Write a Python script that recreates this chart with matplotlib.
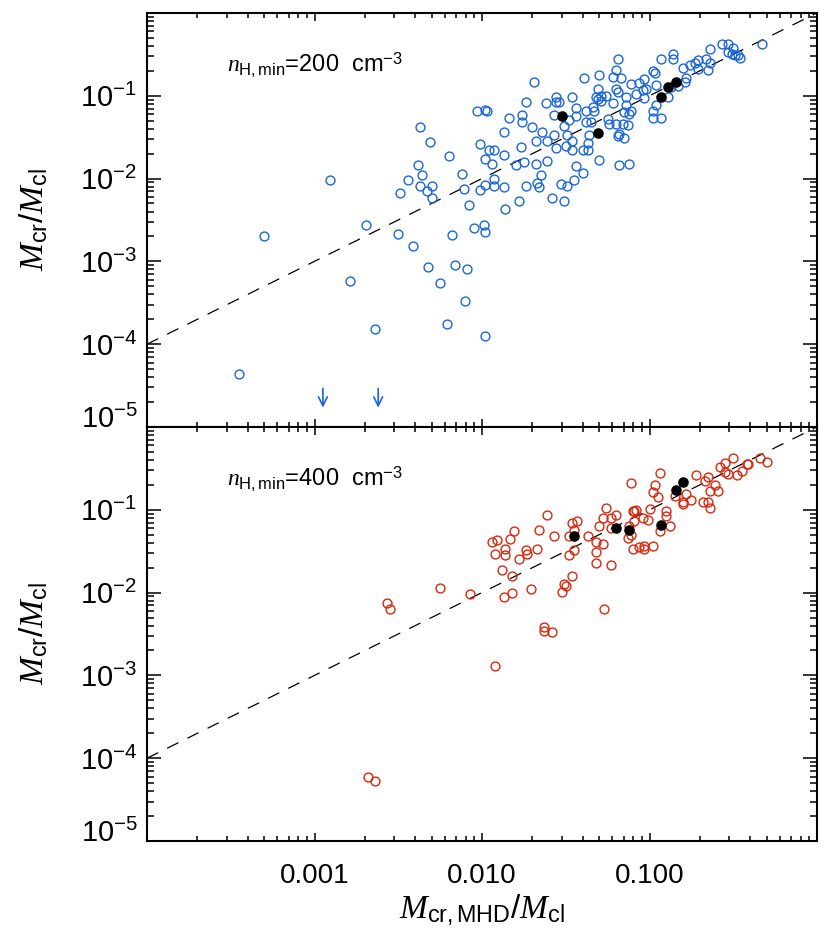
import numpy as np
import matplotlib
matplotlib.use("Agg")
import matplotlib.pyplot as plt
from matplotlib.ticker import FixedLocator, FixedFormatter, NullFormatter

plt.rcParams['font.family'] = ['Liberation Sans', 'DejaVu Sans']
plt.rcParams['mathtext.fontset'] = 'custom'
plt.rcParams['mathtext.rm'] = 'Liberation Sans'
plt.rcParams['mathtext.it'] = 'Liberation Serif:italic'
plt.rcParams['mathtext.bf'] = 'Liberation Sans:bold'

# values are log10(M_cr,MHD/M_cl), log10(M_cr/M_cl)
open_200 = [
    (-3.45, -4.36), (-3.30, -2.69), (-2.91, -2.02), (-2.79, -3.24), (-2.69, -2.56),
    (-2.64, -3.82), (-2.50, -2.67), (-2.49, -2.17), (-2.44, -2.02), (-2.41, -2.82),
    (-2.37, -1.38), (-2.31, -1.56), (-2.38, -1.84), (-2.36, -1.96), (-2.37, -2.09),
    (-2.30, -2.09), (-2.33, -2.15), (-2.30, -2.23), (-2.32, -3.07), (-2.25, -3.26),
    (-2.20, -1.73), (-2.12, -1.94), (-2.11, -2.13), (-2.08, -2.32), (-2.18, -2.68),
    (-2.16, -3.05), (-2.09, -3.09), (-2.10, -3.48), (-2.21, -3.76), (-2.05, -2.60),
    (-1.99, -2.56), (-1.98, -2.64), (-1.98, -3.90), (-2.03, -1.19), (-1.98, -1.17),
    (-1.97, -1.18), (-2.01, -1.58), (-1.96, -1.65), (-1.93, -1.66), (-1.98, -1.76),
    (-1.94, -1.83), (-1.93, -2.01), (-1.93, -2.09), (-1.98, -2.08), (-2.01, -2.14),
    (-1.87, -2.10), (-1.86, -2.37), (-1.87, -1.44), (-1.84, -1.27), (-1.87, -1.72),
    (-1.80, -1.84), (-1.78, -2.27), (-1.77, -1.62), (-1.76, -1.23), (-1.76, -1.32),
    (-1.74, -1.08), (-1.69, -0.84), (-1.75, -1.80), (-1.74, -2.09), (-1.70, -1.38),
    (-1.68, -1.55), (-1.64, -1.44), (-1.68, -1.83), (-1.65, -1.96), (-1.67, -2.05),
    (-1.66, -2.10), (-1.62, -1.09), (-1.61, -1.55), (-1.61, -1.79), (-1.57, -1.23),
    (-1.56, -1.02), (-1.56, -1.08), (-1.54, -1.08), (-1.57, -1.48), (-1.56, -1.63),
    (-1.58, -2.23), (-1.53, -2.06), (-1.51, -2.27), (-1.49, -2.09), (-1.45, -2.02),
    (-1.40, -1.93), (-1.44, -1.85), (-1.51, -1.36), (-1.49, -1.47), (-1.50, -1.61),
    (-1.46, -1.65), (-1.46, -1.55), (-1.48, -1.29), (-1.46, -1.02), (-1.44, -1.15),
    (-1.44, -1.25), (-1.39, -0.79), (-1.38, -1.18), (-1.38, -1.32), (-1.40, -1.66),
    (-1.37, -1.65), (-1.37, -1.57), (-1.36, -1.47), (-1.35, -1.32), (-1.34, -1.13),
    (-1.33, -1.18), (-1.30, -1.78), (-1.31, -1.04), (-1.31, -0.92), (-1.30, -0.75),
    (-1.32, -1.02), (-1.29, -1.00), (-1.26, -1.00), (-1.29, -1.06), (-1.25, -1.28),
    (-1.24, -1.34), (-1.22, -1.09), (-1.22, -0.77), (-1.20, -0.69), (-1.19, -0.56),
    (-1.17, -0.79), (-1.20, -0.92), (-1.19, -0.96), (-1.20, -1.34), (-1.16, -1.34),
    (-1.13, -1.35), (-1.18, -1.46), (-1.19, -1.49), (-1.15, -1.51), (-1.18, -1.84),
    (-1.12, -1.83), (-1.14, -1.01), (-1.14, -1.11), (-1.15, -1.20), (-1.12, -1.22),
    (-1.11, -1.18), (-1.11, -0.86), (-1.08, -0.98), (-1.06, -0.85), (-1.04, -0.93),
    (-1.03, -0.80), (-1.02, -0.92), (-1.03, -1.03), (-0.98, -0.70), (-0.97, -0.73),
    (-0.96, -0.87), (-0.93, -0.56), (-0.98, -1.19), (-0.96, -1.11), (-0.98, -1.27),
    (-0.93, -1.27), (-0.89, -1.02), (-0.86, -0.50), (-0.86, -0.56), (-0.87, -0.90),
    (-0.83, -0.88), (-0.80, -0.66), (-0.78, -0.78), (-0.79, -0.83), (-0.76, -0.63),
    (-0.73, -0.61), (-0.71, -0.57), (-0.71, -0.68), (-0.66, -0.56), (-0.65, -0.69),
    (-0.64, -0.60), (-0.64, -0.44), (-0.57, -0.37), (-0.53, -0.37), (-0.50, -0.42),
    (-0.53, -0.47), (-0.51, -0.49), (-0.49, -0.51), (-0.47, -0.51), (-0.46, -0.54),
    (-0.33, -0.37),
]
filled_200 = [(-1.52, -1.25), (-1.31, -1.45), (-0.93, -1.01), (-0.89, -0.89), (-0.84, -0.83)]
upper_limits_200 = [-2.95, -2.62]   # x of the points below the plot range

open_400 = [
    (-2.57, -2.13), (-2.55, -2.20), (-2.68, -4.23), (-2.64, -4.28), (-2.25, -1.94),
    (-2.07, -2.02), (-1.92, -2.89), (-1.94, -1.39), (-1.91, -1.36), (-1.92, -1.53),
    (-1.86, -1.47), (-1.86, -1.55), (-1.88, -1.73), (-1.87, -2.05), (-1.82, -2.00),
    (-1.82, -1.80), (-1.83, -1.35), (-1.81, -1.26), (-1.78, -1.60), (-1.74, -1.49),
    (-1.73, -1.53), (-1.71, -1.96), (-1.67, -1.47), (-1.66, -1.25), (-1.61, -1.06),
    (-1.57, -1.32), (-1.63, -2.42), (-1.63, -2.46), (-1.58, -2.48), (-1.52, -1.99),
    (-1.51, -1.90), (-1.50, -1.92), (-1.46, -1.80), (-1.48, -1.55), (-1.45, -1.48),
    (-1.48, -1.32), (-1.45, -1.24), (-1.46, -1.16), (-1.43, -1.13), (-1.37, -1.32),
    (-1.32, -1.39), (-1.28, -1.41), (-1.32, -1.51), (-1.32, -1.64), (-1.27, -2.20),
    (-1.23, -1.67), (-1.30, -1.19), (-1.28, -1.10), (-1.26, -0.98), (-1.23, -1.10),
    (-1.20, -1.06), (-1.23, -1.22), (-1.11, -0.68), (-1.12, -1.20), (-1.13, -1.34),
    (-1.11, -1.31), (-1.09, -1.13), (-1.09, -1.01), (-1.10, -1.02), (-1.08, -1.00),
    (-1.04, -1.10), (-1.00, -0.99), (-1.01, -1.12), (-1.10, -1.47), (-1.06, -1.45),
    (-1.03, -1.44), (-1.03, -1.47), (-0.98, -1.44), (-0.94, -1.26), (-0.88, -1.19),
    (-0.95, -0.85), (-0.98, -0.79), (-0.97, -0.70), (-0.94, -0.56), (-0.90, -1.01),
    (-0.90, -1.07), (-0.85, -0.83), (-0.80, -0.91), (-0.80, -0.93), (-0.78, -0.81),
    (-0.75, -0.88), (-0.72, -0.58), (-0.67, -0.65), (-0.65, -0.61), (-0.68, -0.91),
    (-0.65, -0.91), (-0.64, -0.98), (-0.64, -0.77), (-0.61, -0.70), (-0.59, -0.77),
    (-0.58, -0.48), (-0.55, -0.43), (-0.55, -0.54), (-0.53, -0.57), (-0.50, -0.37),
    (-0.48, -0.58), (-0.45, -0.53), (-0.42, -0.45), (-0.41, -0.45), (-0.34, -0.38),
    (-0.30, -0.42),
]
filled_400 = [(-1.45, -1.32), (-1.20, -1.22), (-1.12, -1.25), (-0.93, -1.18), (-0.84, -0.76), (-0.80, -0.67)]

x_ticks = [1e-4, 1e-3, 1e-2, 1e-1, 1e0]
x_ticklabels = ['', '0.001', '0.010', '0.100', '']
y_ticks = [1e-5, 1e-4, 1e-3, 1e-2, 1e-1, 1e0]
y_ticklabels = ['', r'$\mathregular{10^{-4}}$', r'$\mathregular{10^{-3}}$',
                r'$\mathregular{10^{-2}}$', r'$\mathregular{10^{-1}}$', '']
panel_labels = [r'$\mathit{n}_{\mathrm{H,min}}$=200  cm$^{\mathrm{-3}}$',
                r'$\mathit{n}_{\mathrm{H,min}}$=400  cm$^{\mathrm{-3}}$']

blue = '#1a66d9'
red = '#d8280e'

fig = plt.figure(figsize=(8.25, 9.44), dpi=100)
ax1 = fig.add_axes([0.1782, 0.5477, 0.8121, 0.4386])
ax2 = fig.add_axes([0.1782, 0.1091, 0.8121, 0.4386])

minor = [m * 10.0**e for e in range(-5, 0) for m in range(2, 10)]

for ax, pts, full, col, lab in [(ax1, open_200, filled_200, blue, panel_labels[0]),
                                (ax2, open_400, filled_400, red, panel_labels[1])]:
    ax.set_xscale('log')
    ax.set_yscale('log')
    ax.set_xlim(1e-4, 1)
    ax.set_ylim(1e-5, 1)
    ax.plot([1e-4, 1], [1e-4, 1], color='k', lw=0.9, ls=(0, (10, 8)))
    p = 10.0 ** np.array(pts)
    ax.plot(p[:, 0], p[:, 1], 'o', ms=6.4, mfc='none', mec=col, mew=1.0)
    f = 10.0 ** np.array(full)
    ax.plot(f[:, 0], f[:, 1], 'o', ms=6.6, mfc='k', mec='k', mew=1.0)
    ax.text(0.119, 0.857, lab, transform=ax.transAxes, fontsize=17, va='baseline')

    ax.xaxis.set_major_locator(FixedLocator(x_ticks))
    ax.xaxis.set_minor_locator(FixedLocator(minor))
    ax.xaxis.set_minor_formatter(NullFormatter())
    ax.yaxis.set_major_locator(FixedLocator(y_ticks))
    ax.yaxis.set_major_formatter(FixedFormatter(y_ticklabels))
    ax.yaxis.set_minor_locator(FixedLocator(minor))
    ax.yaxis.set_minor_formatter(NullFormatter())
    ax.tick_params(axis='both', which='both', direction='in', top=True, right=True, width=1.1)
    ax.tick_params(axis='x', which='major', length=6, labelsize=20, pad=16)
    ax.tick_params(axis='x', which='minor', length=3.6)
    ax.tick_params(axis='y', which='major', length=10, labelsize=21, pad=7)
    ax.tick_params(axis='y', which='minor', length=5)
    for s in ax.spines.values():
        s.set_linewidth(1.5)
    ax.set_ylabel(r'$\mathit{M}_{\mathrm{cr}}/\mathit{M}_{\mathrm{cl}}$', fontsize=24)
    ax.yaxis.set_label_coords(-0.145, 0.5)
    # lowest y label sits a little above its tick, as in the original
    ax.text(-0.013, 0.026, r'$\mathregular{10^{-5}}$', transform=ax.transAxes,
            fontsize=21, ha='right', va='center_baseline')

ax1.xaxis.set_major_formatter(NullFormatter())
ax2.xaxis.set_major_formatter(FixedFormatter(x_ticklabels))
ax2.set_xlabel(r'$\mathit{M}_{\mathrm{cr,MHD}}/\mathit{M}_{\mathrm{cl}}$', fontsize=24)
ax2.xaxis.set_label_coords(0.5, -0.125)

for xv in upper_limits_200:
    ax1.annotate('', xy=(10.0**xv, 10.0**-4.8), xytext=(10.0**xv, 10.0**-4.5),
                 arrowprops=dict(arrowstyle='->', color=blue, lw=1.2, mutation_scale=16))

fig.savefig('out.png', dpi=100)
